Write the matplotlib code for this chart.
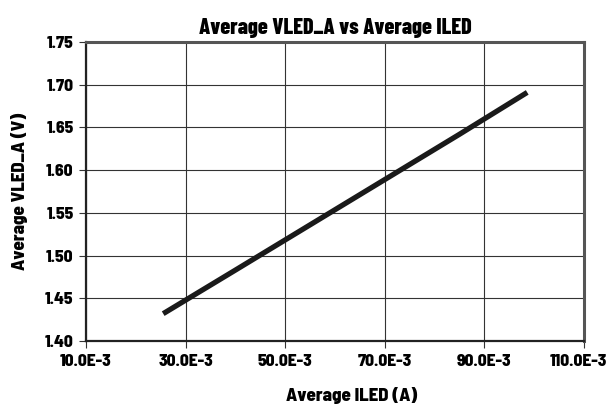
import matplotlib
matplotlib.use("Agg")
import matplotlib.pyplot as plt
import matplotlib.transforms as mtransforms

# values (current in A, voltage in V)
iled = [25.5e-3, 40.0e-3, 55.0e-3, 70.0e-3, 85.0e-3, 98.6e-3]
vled = [1.432, 1.483, 1.536, 1.589, 1.642, 1.691]

x_ticks = [10e-3, 30e-3, 50e-3, 70e-3, 90e-3, 110e-3]
x_labels = ["10.0E-3", "30.0E-3", "50.0E-3", "70.0E-3", "90.0E-3", "110.0E-3"]
y_ticks = [1.40, 1.45, 1.50, 1.55, 1.60, 1.65, 1.70, 1.75]

plt.rcParams['font.family'] = ['Barlow Semi Condensed', 'DejaVu Sans']
plt.rcParams['font.weight'] = 'bold'

fig = plt.figure(figsize=(6.1, 4.07), dpi=100)
ax = fig.add_axes([86 / 610, 1 - 341 / 407, 498 / 610, 299 / 407])

ax.plot(iled, vled, color='#1a1a1a', linewidth=3.8, solid_capstyle='butt', zorder=3)

ax.set_xlim(10e-3, 110e-3)
ax.set_ylim(1.40, 1.75)
ax.set_xticks(x_ticks)
ax.set_xticklabels(x_labels)
ax.set_yticks(y_ticks)
ax.set_yticklabels(["%.2f" % v for v in y_ticks])

ax.grid(True, color='#333333', linewidth=0.8)
ax.tick_params(axis='both', direction='out', length=5, width=0.8, color='#333333',
               labelsize=12.5, pad=4)
for lab in ax.get_xticklabels() + ax.get_yticklabels():
    lab.set_fontweight(800)
# keep the last x label inside the picture, as in the reference
last = ax.get_xticklabels()[-1]
last.set_horizontalalignment('right')
last.set_transform(last.get_transform() + mtransforms.ScaledTranslation(23 / 100, 0, fig.dpi_scale_trans))

for side in ['left', 'bottom']:
    ax.spines[side].set_linewidth(1.6)
    ax.spines[side].set_color('#222222')
for side in ['top', 'right']:
    ax.spines[side].set_linewidth(2.2)
    ax.spines[side].set_color('#555555')

ax.set_title("Average VLED_A vs Average ILED", fontsize=16, fontweight=800, pad=6,
             family=['Barlow Condensed', 'DejaVu Sans'])
ax.set_xlabel("Average ILED (A)", fontsize=13.5, fontweight=800)
ax.xaxis.set_label_coords(0.534, -0.155)
ax.set_ylabel("Average VLED_A (V)", fontsize=13.5, fontweight=800, labelpad=12)

fig.savefig("out.png", dpi=100)
